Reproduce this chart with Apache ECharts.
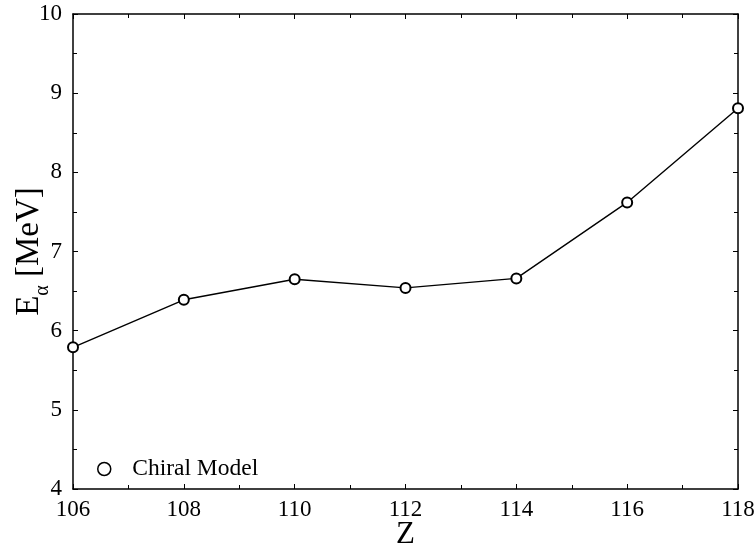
<!DOCTYPE html>
<html>
<head>
<meta charset="utf-8">
<script src="https://cdn.jsdelivr.net/npm/echarts@6/dist/echarts.min.js"></script>
<style>
  html, body { margin: 0; padding: 0; background: #fff; }
  #chart { width: 756px; height: 544px; }
</style>
</head>
<body>
<div id="chart"></div>
<script>
// Alpha-decay energies vs. proton number
const zValues = [106, 108, 110, 112, 114, 116, 118];
const alphaEnergy = [5.79, 6.39, 6.65, 6.54, 6.66, 7.62, 8.81];
const seriesName = 'Chiral Model';

const FONT = '"Liberation Serif", "Times New Roman", serif';
const points = zValues.map((z, i) => [z, alphaEnergy[i]]);

const tickCommon = {
  axisLine: { show: true, lineStyle: { color: '#000', width: 1.5 } },
  axisTick: { show: true, inside: true, length: 5, lineStyle: { color: '#000', width: 1 } },
  minorTick: { show: true, splitNumber: 2, length: 4, lineStyle: { color: '#000', width: 1 } },
  splitLine: { show: false }
};

const chart = echarts.init(document.getElementById('chart'));
chart.setOption({
  animation: false,
  backgroundColor: '#fff',
  grid: { left: 73, right: 18, top: 14, bottom: 55, containLabel: false, outerBoundsMode: 'none' },
  legend: {
    data: [{ name: seriesName, icon: 'circle' }],
    left: 92, top: 452,
    itemWidth: 46, itemHeight: 13, itemGap: 10,
    textStyle: { fontFamily: FONT, fontSize: 23.5, color: '#000' },
    itemStyle: { color: '#fff', borderColor: '#000', borderWidth: 1.5 }
  },
  xAxis: [
    Object.assign({
      type: 'value', min: 106, max: 118, interval: 2, position: 'bottom',
      name: 'Z', nameLocation: 'middle', nameGap: 30, nameMoveOverlap: false,
      nameTextStyle: { fontFamily: FONT, fontSize: 31, color: '#000' },
      axisLabel: { fontFamily: FONT, fontSize: 23, color: '#000', margin: 9 }
    }, tickCommon),
    Object.assign({
      type: 'value', min: 106, max: 118, interval: 2, position: 'top',
      axisLabel: { show: false }
    }, tickCommon)
  ],
  yAxis: [
    Object.assign({
      type: 'value', min: 4, max: 10, interval: 1, position: 'left',
      name: '{m|E}{s|α}{m| [MeV]}', nameLocation: 'middle', nameGap: 27, nameRotate: 90,
      nameMoveOverlap: false,
      nameTextStyle: {
        fontFamily: FONT, fontSize: 33, color: '#000',
        rich: {
          m: { fontFamily: FONT, fontSize: 33, color: '#000', lineHeight: 36, verticalAlign: 'bottom' },
          s: { fontFamily: FONT, fontSize: 20, color: '#000', lineHeight: 36, verticalAlign: 'bottom', padding: [0, 0, -7, 0] }
        }
      },
      axisLabel: { fontFamily: FONT, fontSize: 23, color: '#000', margin: 11 }
    }, tickCommon),
    Object.assign({
      type: 'value', min: 4, max: 10, interval: 1, position: 'right',
      axisLabel: { show: false }
    }, tickCommon)
  ],
  series: [{
    name: seriesName,
    type: 'line',
    data: points,
    symbol: 'emptyCircle',
    symbolSize: 10,
    lineStyle: { color: '#000', width: 1.4 },
    itemStyle: { color: '#000', borderColor: '#000', borderWidth: 1.4 },
    clip: false
  }]
});
</script>
</body>
</html>
